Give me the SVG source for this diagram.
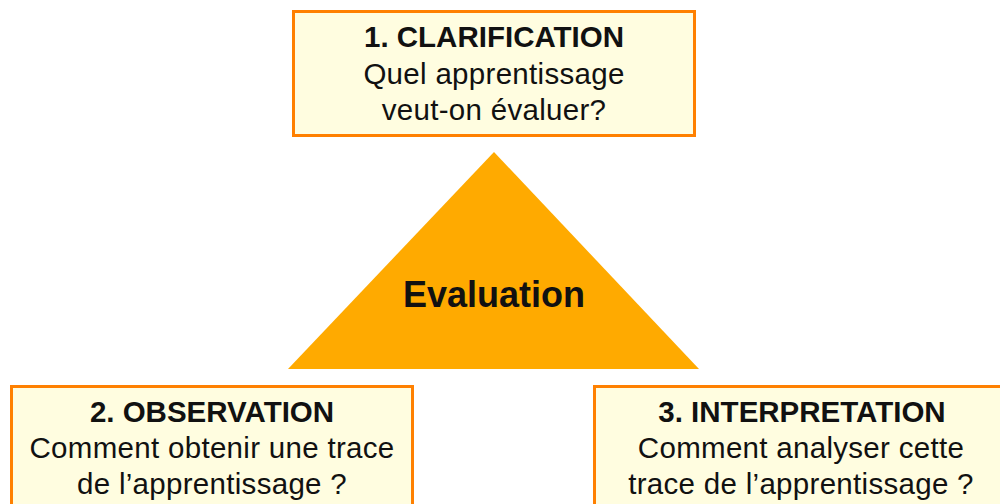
<svg xmlns="http://www.w3.org/2000/svg" width="1000" height="504" viewBox="0 0 1000 504">
<style>
.box{fill:#FFFDE0;stroke:#FF8000;stroke-width:3}
text{font-family:"Liberation Sans",Arial,sans-serif;fill:#111;text-anchor:middle}
.t{font-size:29.5px;font-weight:bold}
.b{font-size:29.5px;letter-spacing:0.3px}
.ev{font-size:36px;font-weight:bold}
</style>
<rect width="1000" height="504" fill="#ffffff"/>
<g id="evaluation">
<polygon points="494,152 288,369 699,369" fill="#FFAA00"/>
<text class="ev" x="494" y="307">Evaluation</text>
</g>
<g id="clarification">
<rect class="box" x="293.5" y="11.5" width="401" height="124"/>
<text class="t" x="494" y="47">1. CLARIFICATION</text>
<text class="b" x="494" y="84">Quel apprentissage</text>
<text class="b" x="494" y="120">veut-on évaluer?</text>
</g>
<g id="observation">
<rect class="box" x="11.5" y="386.5" width="401" height="130"/>
<text class="t" x="212" y="422">2. OBSERVATION</text>
<text class="b" x="212" y="458">Comment obtenir une trace</text>
<text class="b" x="212" y="494">de l’apprentissage ?</text>
</g>
<g id="interpretation">
<rect class="box" x="594.5" y="386.5" width="412" height="130"/>
<text class="t" x="802" y="422">3. INTERPRETATION</text>
<text class="b" x="801" y="458">Comment analyser cette</text>
<text class="b" x="801" y="494">trace de l’apprentissage ?</text>
</g>
<g id="connectors"></g>
</svg>
